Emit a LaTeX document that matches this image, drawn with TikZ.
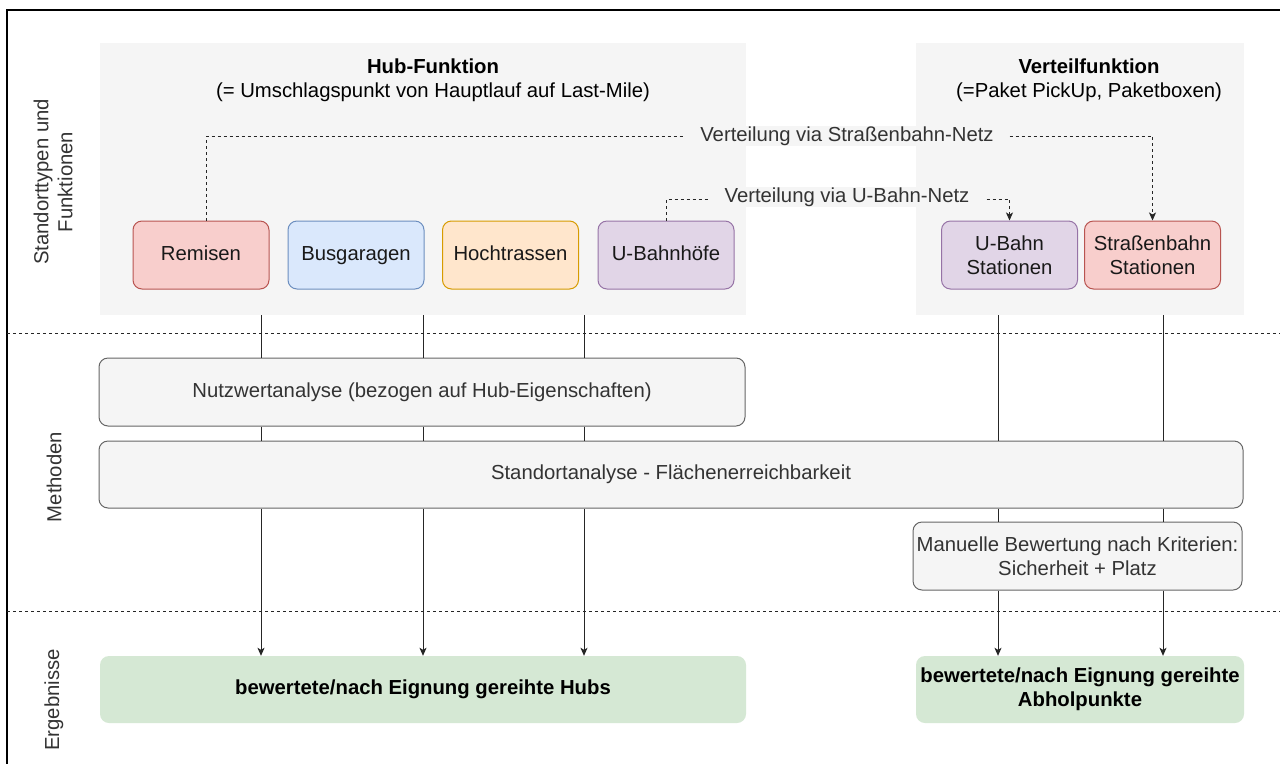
\documentclass[tikz,border=0pt]{standalone}
\usepackage{fontspec}
\setmainfont{Liberation Sans}
\usetikzlibrary{arrows.meta,calc}
\definecolor{contgray}{HTML}{F5F5F5}
\definecolor{mfill}{HTML}{F5F5F5}
\definecolor{mdraw}{HTML}{666666}
\definecolor{mtext}{HTML}{333333}
\definecolor{redfill}{HTML}{F8CECC}
\definecolor{reddraw}{HTML}{B85450}
\definecolor{bluefill}{HTML}{DAE8FC}
\definecolor{bluedraw}{HTML}{6C8EBF}
\definecolor{orfill}{HTML}{FFE6CC}
\definecolor{ordraw}{HTML}{D79B00}
\definecolor{vifill}{HTML}{E1D5E7}
\definecolor{vidraw}{HTML}{9673A6}
\definecolor{grfill}{HTML}{D5E8D4}
\tikzset{
  container/.style={fill=contgray, draw=none, inner sep=0pt},
  typebox/.style={rounded corners=9pt, line width=1pt, minimum width=136pt, minimum height=68pt, inner sep=2pt, align=center, text=black!90},
  oneline/.style={text height=15pt, text depth=4.5pt},
  methbox/.style={rounded corners=9pt, line width=1pt, fill=mfill, draw=mdraw, text=mtext, inner sep=2pt, align=center},
  resbox/.style={rounded corners=9pt, fill=grfill, draw=none, inner sep=2pt, align=center, font=\fontsize{20.3}{24}\selectfont\bfseries},
  lanelabel/.style={rotate=90, align=center, text=mtext},
  conn/.style={draw=black!85, line width=1pt},
  arrconn/.style={conn, -{Stealth[length=8pt,width=7pt,inset=2pt]}},
  dotconn/.style={draw=black!85, line width=1pt, dash pattern=on 3pt off 3pt, -{Stealth[length=8pt,width=7pt,inset=2pt]}},
  dotline/.style={draw=black!85, line width=1pt, dash pattern=on 3pt off 3pt},
  elabel/.style={fill=contgray, text=mtext, inner xsep=15pt, inner ysep=1pt}
}
\begin{document}
\begin{tikzpicture}[x=1pt,y=-1pt,font=\fontsize{20.3}{24}\selectfont]
\useasboundingbox (0,0) rectangle (1280,764);
\fill[white] (0,0) rectangle (1280,764);
% frame
\draw[line width=1.5pt] (1280,10) -- (7,10) -- (7,764);
% lane separators
\coordinate (sepL1) at (7,333);
\coordinate (sepR1) at (1280,333);
\coordinate (sepL2) at (7,611);
\coordinate (sepR2) at (1280,611);
\draw[dotline] (sepL1) -- (sepR1);
\draw[dotline] (sepL2) -- (sepR2);
% lane labels
\node[lanelabel] (lane1) at (53,182) {Standorttypen und\\Funktionen};
\node[lanelabel] (lane2) at (54,477) {Methoden};
\node[lanelabel] (lane3) at (54,700) {Ergebnisse};
% containers
\node[container, minimum width=646pt, minimum height=272pt] (hub) at (423,179) {};
\node[container, minimum width=328pt, minimum height=272pt] (vert) at (1080,179) {};
\node[align=center] (hubtitle) at (433,80) {\textbf{Hub-Funktion}\\(= Umschlagspunkt von Hauptlauf auf Last-Mile)};
\node[align=center] (verttitle) at (1089,80) {\textbf{Verteilfunktion}\\(=Paket PickUp, Paketboxen)};
% type boxes
\node[typebox, oneline, fill=redfill, draw=reddraw] (rem) at (201,255) {Remisen};
\node[typebox, oneline, fill=bluefill, draw=bluedraw] (bus) at (356,255) {Busgaragen};
\node[typebox, oneline, fill=orfill, draw=ordraw] (hoch) at (510.5,255) {Hochtrassen};
\node[typebox, oneline, fill=vifill, draw=vidraw] (ubh) at (666,255) {U-Bahnhöfe};
\node[typebox, fill=vifill, draw=vidraw] (ust) at (1009.5,255) {U-Bahn\\Stationen};
\node[typebox, fill=redfill, draw=reddraw] (sst) at (1152.5,255) {Straßenbahn\\Stationen};
% method boxes
\node[methbox, oneline, minimum width=646pt, minimum height=68pt] (nutz) at (422,392) {Nutzwertanalyse (bezogen auf Hub-Eigenschaften)};
\node[methbox, oneline, minimum width=1144pt, minimum height=67pt] (stand) at (671,474.5) {Standortanalyse - Flächenerreichbarkeit};
\node[methbox, minimum width=329pt, minimum height=68pt, inner xsep=0pt] (man) at (1077.5,556) {Manuelle Bewertung nach Kriterien:\\Sicherheit + Platz};
% result boxes
\node[resbox, oneline, minimum width=646pt, minimum height=67pt] (res1) at (423,689.5) {bewertete/nach Eignung gereihte Hubs};
\node[resbox, minimum width=328pt, minimum height=67pt, inner xsep=0pt] (res2) at (1080,689.5) {bewertete/nach Eignung gereihte\\Abholpunkte};
% dashed distribution connectors
\coordinate (strlevel) at (0,136);
\coordinate (ulevel) at (0,199);
\draw[dotconn] ([xshift=5pt]rem.north) -- ([xshift=5pt]rem.north |- strlevel) -| (sst.north);
\draw[dotconn] (ubh.north) -- (ubh.north |- ulevel) -| (ust.north);
\node[elabel] (lstr) at (847,136) {Verteilung via Straßenbahn-Netz};
\node[elabel] (lu) at (847,197) {Verteilung via U-Bahn-Netz};
% vertical flow lines
\coordinate (x1) at (261,0);
\coordinate (x2) at (423,0);
\coordinate (x3) at (584,0);
\coordinate (x4) at (998,0);
\coordinate (x5) at (1163,0);
\foreach \c in {x1,x2,x3}{
  \draw[conn] (hub.south -| \c) -- (nutz.north -| \c);
  \draw[conn] (nutz.south -| \c) -- (stand.north -| \c);
  \draw[arrconn] (stand.south -| \c) -- (res1.north -| \c);
}
\foreach \c in {x4,x5}{
  \draw[conn] (vert.south -| \c) -- (stand.north -| \c);
  \draw[conn] (stand.south -| \c) -- (man.north -| \c);
  \draw[arrconn] (man.south -| \c) -- (res2.north -| \c);
}
\end{tikzpicture}
\end{document}
